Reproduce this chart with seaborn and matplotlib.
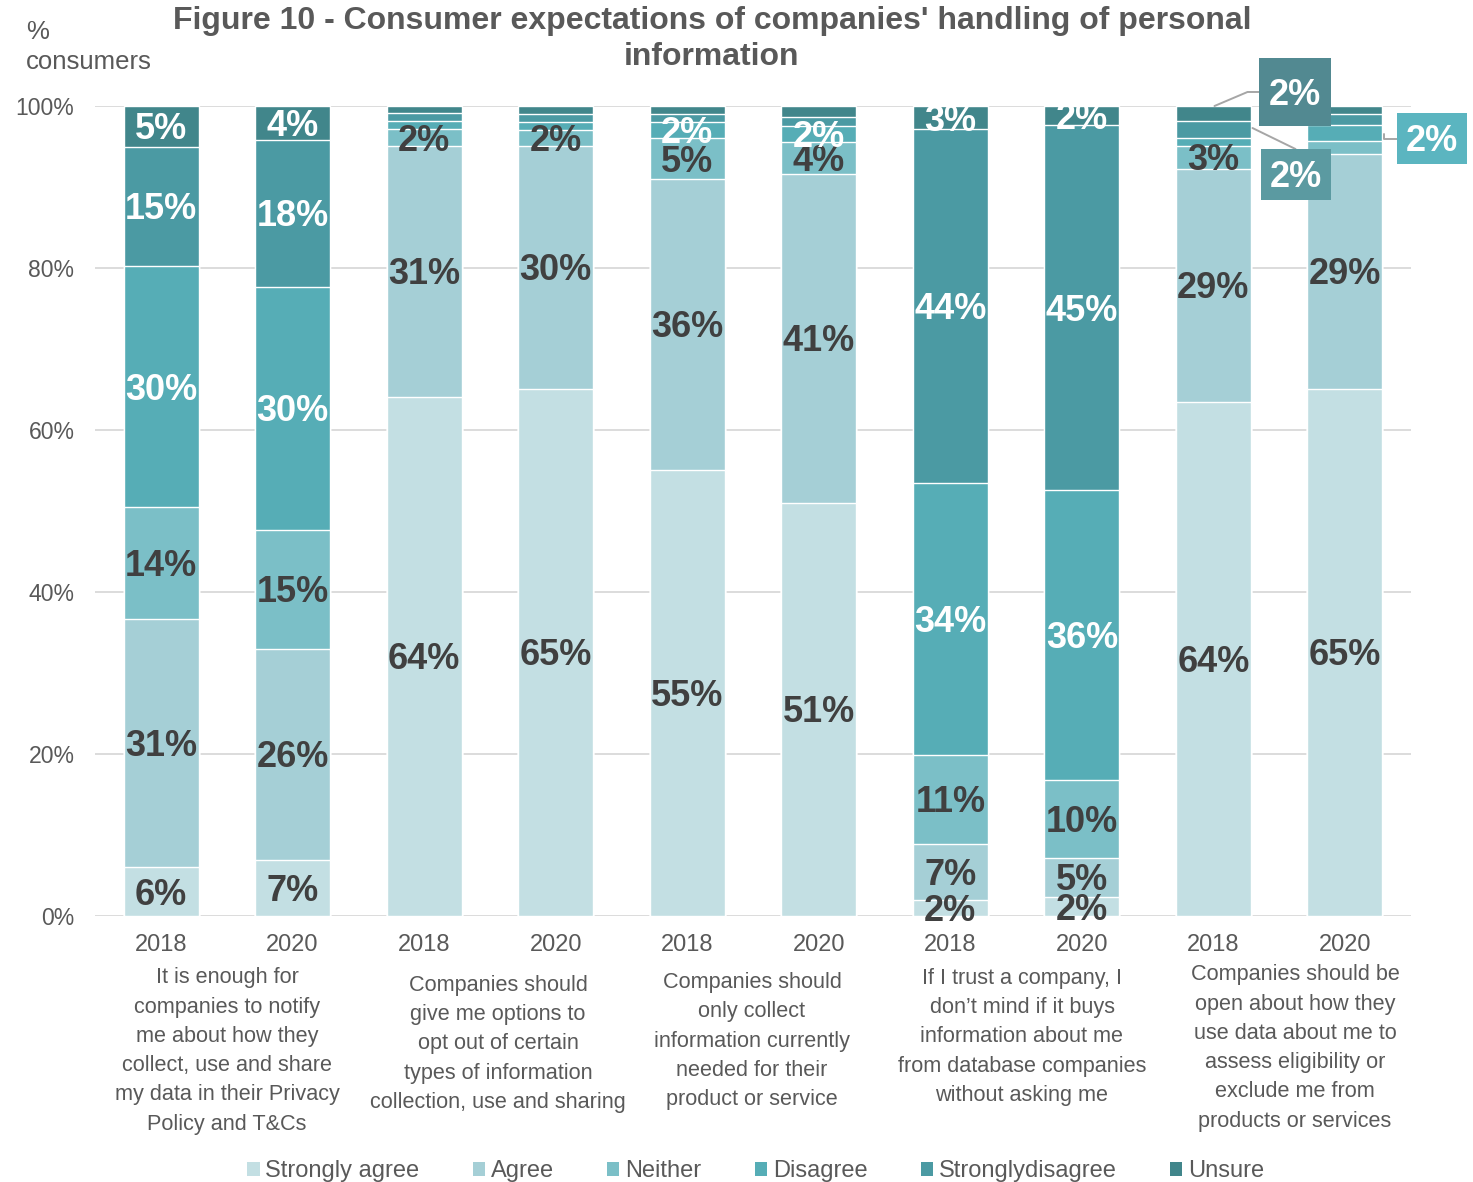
import matplotlib
matplotlib.use("Agg")
import matplotlib.pyplot as plt
import matplotlib.transforms as mtransforms
from matplotlib.patches import Patch, Rectangle
import numpy as np
import pandas as pd
import seaborn as sns

# ---- data -------------------------------------------------------------
statements = [
    "It is enough for\ncompanies to notify\nme about how they\ncollect, use and share\nmy data in their Privacy\nPolicy and T&Cs",
    "Companies should\ngive me options to\nopt out of certain\ntypes of information\ncollection, use and sharing",
    "Companies should\nonly collect\ninformation currently\nneeded for their\nproduct or service",
    "If I trust a company, I\ndon\u2019t mind if it buys\ninformation about me\nfrom database companies\nwithout asking me",
    "Companies should be\nopen about how they\nuse data about me to\nassess eligibility or\nexclude me from\nproducts or services",
]
years = ["2018", "2020"] * 5
responses = ["Strongly agree", "Agree", "Neither", "Disagree", "Stronglydisagree", "Unsure"]

strongly_agree = [6.0, 6.9, 64.1, 65.1, 55.1, 51.0, 2.0, 2.3, 63.5, 65.1]
agree = [30.7, 26.1, 31.0, 30.0, 35.9, 40.6, 6.9, 4.9, 28.7, 29.0]
neither = [13.8, 14.7, 2.0, 1.9, 5.0, 4.0, 11.0, 9.6, 2.9, 1.6]
disagree = [29.7, 30.0, 1.0, 1.0, 2.0, 1.9, 33.6, 35.8, 1.0, 1.9]
strongly_disagree = [14.8, 18.1, 1.0, 1.0, 1.0, 1.1, 43.6, 45.0, 2.0, 1.4]
unsure = [5.0, 4.2, 0.9, 1.0, 1.0, 1.4, 2.9, 2.4, 1.9, 1.0]

# which segments carry an in-bar label (1) / no label (0)
show_sa = [1, 1, 1, 1, 1, 1, 1, 1, 1, 1]
show_ag = [1, 1, 1, 1, 1, 1, 1, 1, 1, 1]
show_ne = [1, 1, 1, 1, 1, 1, 1, 1, 1, 0]
show_di = [1, 1, 0, 0, 1, 1, 1, 1, 0, 0]
show_sd = [1, 1, 0, 0, 0, 0, 1, 1, 0, 0]
show_un = [1, 1, 0, 0, 0, 0, 1, 1, 0, 0]

# segments labelled through call-out boxes: (bar, response index)
callouts = [(8, 5), (8, 4), (9, 3)]

colors = ["#C3DFE3", "#A5CFD6", "#7BBFC7", "#56ADB6", "#4B9AA3", "#41868B"]
label_colors = ["#404040", "#404040", "#404040", "white", "white", "white"]
GREY = "#595959"

# ---- frame ------------------------------------------------------------
series = [strongly_agree, agree, neither, disagree, strongly_disagree, unsure]
masks = [show_sa, show_ag, show_ne, show_di, show_sd, show_un]
vals = np.array(series)            # shape (6, 10)
cum = np.cumsum(vals, axis=0)
df = pd.DataFrame({"pos": np.arange(10)})
for i, r in enumerate(responses):
    df[r] = cum[i]

sns.set_theme(style="white")
plt.rcParams["font.family"] = ["Liberation Sans", "DejaVu Sans"]

fig = plt.figure(figsize=(14.73, 11.82), dpi=100)
ax = fig.add_axes([95.25 / 1473, 1 - 916 / 1182, (1410.75 - 95.25) / 1473, (916 - 106) / 1182])

# stacked bars: draw cumulative totals from the top layer down
for i in range(5, -1, -1):
    sns.barplot(data=df, x="pos", y=responses[i], color=colors[i], saturation=1,
                width=0.57, errorbar=None, ax=ax, zorder=2)

ax.set_xlim(-0.5, 9.5)
ax.set_ylim(0, 100)
ax.set_axisbelow(True)
ax.set_yticks(np.arange(0, 101, 20))
ax.set_yticklabels([f"{v}%" for v in range(0, 101, 20)])
ax.yaxis.grid(True, color="#D9D9D9", linewidth=1.3)
ax.xaxis.grid(False)
for s in ax.spines.values():
    s.set_visible(False)
ax.tick_params(axis="y", length=0, pad=15, labelsize=16.6, labelcolor=GREY)
ax.set_xticks(np.arange(10))
ax.set_xticklabels(years)
ax.tick_params(axis="x", length=0, pad=13, labelsize=17, labelcolor=GREY)
ax.set_xlabel("")
ax.set_ylabel("")

# in-bar value labels (nudged a few points down so the digits sit centred)
lab_tr = mtransforms.offset_copy(ax.transData, fig=fig, x=0, y=-2.5, units="points")
lab_kw = dict(ha="center", va="center", fontsize=26, fontweight="bold", zorder=5)
for i in range(6):
    for j in range(10):
        if masks[i][j]:
            y = cum[i][j] - vals[i][j] / 2
            ax.text(j, y, f"{vals[i][j]:.0f}%", color=label_colors[i],
                    transform=lab_tr, **lab_kw)

# call-out boxes for the thin top segments
box_specs = [  # centre x, centre y, width, height (data units), face colour, leader path
    (8.62, 101.7, 0.54, 8.4, "#528991",
     [(8.008, 100.0), (8.259, 101.73), (8.35, 101.73)]),
    (8.624, 91.54, 0.532, 6.3, "#5B9AA1", [(8.297, 97.28), (8.624, 94.69)]),
    (9.658, 95.99, 0.532, 6.3, "#5BB5C0",
     [(9.293, 96.54), (9.293, 95.93), (9.392, 95.93)]),
]
for (bar, resp), (cx, cy, w, h, fc, path) in zip(callouts, box_specs):
    px, py = zip(*path)
    ax.plot(px, py, color="#A6A6A6", lw=1.4, clip_on=False, zorder=4)
    ax.add_patch(Rectangle((cx - w / 2, cy - h / 2), w, h, facecolor=fc,
                           edgecolor="none", clip_on=False, zorder=5))
    ax.text(cx, cy, f"{vals[resp][bar]:.0f}%", color="white", clip_on=False,
            transform=lab_tr, **{**lab_kw, "zorder": 6})

# statement captions under each pair of bars
cap_pos = [(227, 1051), (498, 1044), (752, 1041), (1022, 1037), (1295, 1048)]
for text, (px, py) in zip(statements, cap_pos):
    fig.text(px / 1473, 1 - py / 1182, text, ha="center", va="center",
             fontsize=15.6, color=GREY, linespacing=1.52)

# title and axis caption
fig.text(712 / 1473, 1 - 39 / 1182,
         "Figure 10 - Consumer expectations of companies' handling of personal\ninformation",
         ha="center", va="center", fontsize=23, fontweight="bold", color=GREY,
         linespacing=1.22)
fig.text(26 / 1473, 1 - 47 / 1182, "%\nconsumers", ha="left", va="center",
         fontsize=18.5, color=GREY, linespacing=1.27)

# legend
handles = [Patch(facecolor=c, edgecolor="none") for c in colors]
leg = fig.legend(handles, responses, loc="center", bbox_to_anchor=(0.513, 0.009),
                 ncol=6, frameon=False, fontsize=17, handlelength=0.52,
                 handleheight=0.52, handletextpad=0.25, columnspacing=2.25)
for t in leg.get_texts():
    t.set_color(GREY)

fig.savefig("out.png", dpi=100)
